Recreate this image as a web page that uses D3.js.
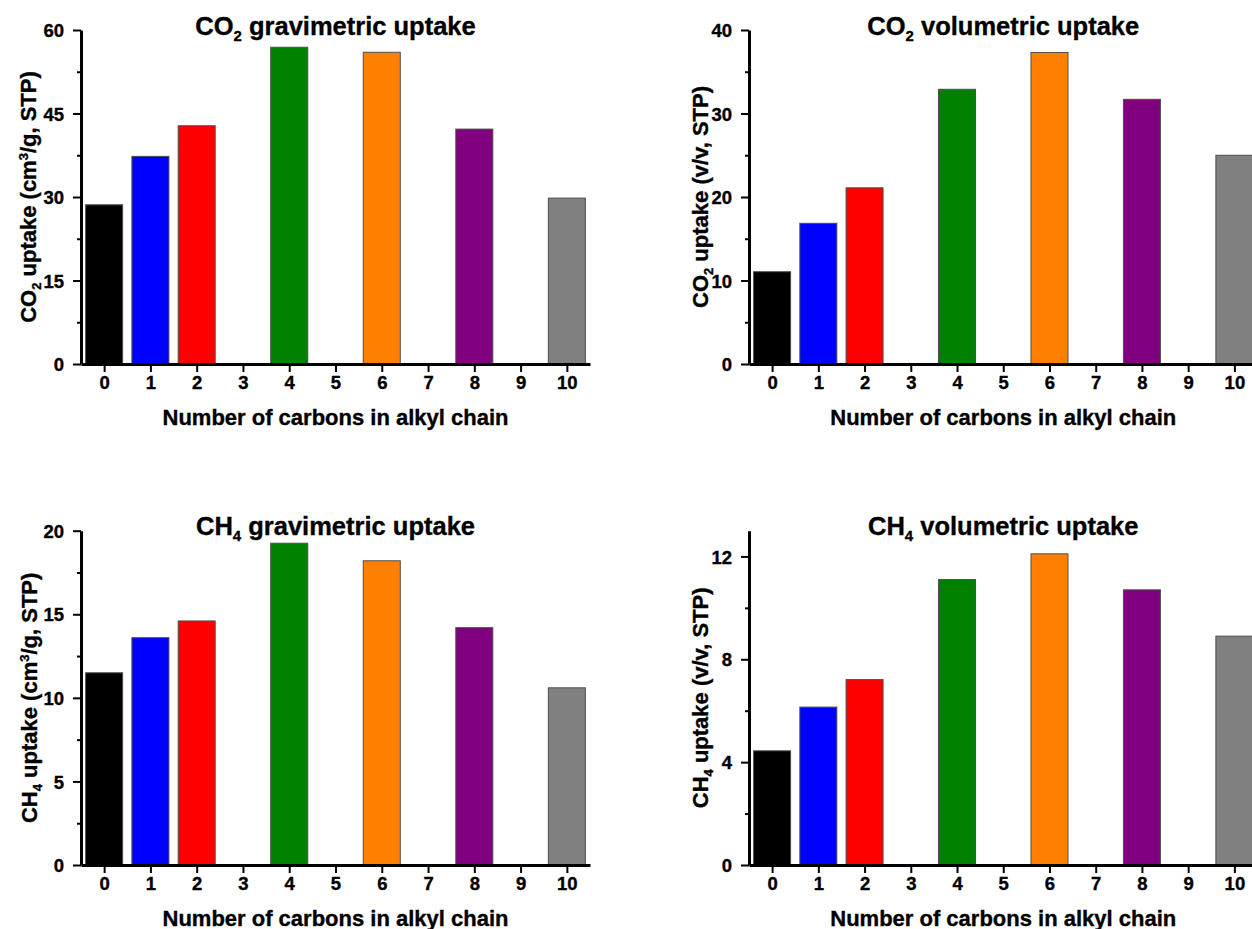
<!DOCTYPE html>
<html>
<head>
<meta charset="utf-8">
<script src="https://cdn.jsdelivr.net/npm/d3@7"></script>
<style>
  body { margin: 0; background: #fff; }
  text { font-family: "Liberation Sans", Arial, sans-serif; font-weight: bold; fill: #000;
         stroke: #000; stroke-width: 0.35px; }
</style>
</head>
<body>
<div id="plot"></div>
<script>
// values
const carbons = [0, 1, 2, 4, 6, 8, 10];
const xTicks = [0, 1, 2, 3, 4, 5, 6, 7, 8, 9, 10];
const barColors = ["#000000", "#0000ff", "#ff0000", "#008000", "#ff8000", "#800080", "#808080"];

const co2Grav = [28.6, 37.3, 42.8, 56.9, 56.0, 42.2, 29.8];
const co2Vol  = [11.05, 16.85, 21.1, 32.9, 37.3, 31.7, 25.0];
const ch4Grav = [11.5, 13.6, 14.6, 19.25, 18.2, 14.2, 10.6];
const ch4Vol  = [4.44, 6.14, 7.21, 11.1, 12.1, 10.7, 8.9];

const co2GravTicks = [0, 15, 30, 45, 60];
const co2VolTicks  = [0, 10, 20, 30, 40];
const ch4GravTicks = [0, 5, 10, 15, 20];
const ch4VolTicks  = [0, 4, 8, 12];

const w = 1252;
const h = 929;

const svg = d3.select("div#plot")
    .append("svg")
    .attr("width", w)
    .attr("height", h);

// panel layout (pixels)
const panels = [
  {gas: "CO", sub: "2", kind: "gravimetric", unit: "cm", sup: "3", unitRest: "/g, STP)",
   values: co2Grav, ticks: co2GravTicks, ymax: 60,
   left: 81, right: 590, top: 30, bottom: 364, ylabX: 36},
  {gas: "CO", sub: "2", kind: "volumetric", unit: "v/v, STP)", sup: null,
   values: co2Vol, ticks: co2VolTicks, ymax: 40,
   left: 749, right: 1257.5, top: 30, bottom: 364, ylabX: 708},
  {gas: "CH", sub: "4", kind: "gravimetric", unit: "cm", sup: "3", unitRest: "/g, STP)",
   values: ch4Grav, ticks: ch4GravTicks, ymax: 20,
   left: 81, right: 590, top: 530.7, bottom: 865, ylabX: 37},
  {gas: "CH", sub: "4", kind: "volumetric", unit: "v/v, STP)", sup: null,
   values: ch4Vol, ticks: ch4VolTicks, ymax: 13,
   left: 749, right: 1257.5, top: 530.7, bottom: 865, ylabX: 708}
];

panels.forEach(p => {
  const xScale = d3.scaleLinear()
      .domain([-0.5, 10.5])
      .range([p.left, p.right]);

  const yScale = d3.scaleLinear()
      .domain([0, p.ymax])
      .range([p.bottom, p.top]);

  const step = p.ticks[1] - p.ticks[0];
  const minor = d3.range(step / 2, p.ymax, step).filter(v => !p.ticks.includes(v));

  const g = svg.append("g");

  const bw = xScale(0.4) - xScale(0);

  g.selectAll("rect")
      .data(p.values)
      .enter().append("rect")
      .attr("x", (d, i) => xScale(carbons[i]) - bw)
      .attr("y", d => yScale(d))
      .attr("width", 2 * bw)
      .attr("height", d => yScale(0) - yScale(d))
      .attr("fill", (d, i) => barColors[i])
      .attr("stroke", "#4d4d4d")
      .attr("stroke-width", 1);

  // minor y ticks
  g.append("g")
      .attr("transform", `translate(${p.left},0)`)
      .call(d3.axisLeft(yScale).tickValues(minor).tickSize(4).tickSizeOuter(0).tickFormat(""))
      .call(a => a.select(".domain").remove())
      .call(a => a.selectAll("line").attr("stroke-width", 2));

  // major y ticks
  g.append("g")
      .attr("transform", `translate(${p.left},0)`)
      .call(d3.axisLeft(yScale).tickValues(p.ticks).tickSize(8).tickSizeOuter(0).tickPadding(9))
      .call(a => a.select(".domain").attr("stroke-width", 3))
      .call(a => a.selectAll("line").attr("stroke-width", 2))
      .call(a => a.selectAll("text").style("font-size", "18.5px").attr("dy", "0.36em"));

  // x axis
  g.append("g")
      .attr("transform", `translate(0,${p.bottom})`)
      .call(d3.axisBottom(xScale).tickValues(xTicks).tickSize(8).tickSizeOuter(0).tickPadding(4))
      .call(a => a.select(".domain").attr("stroke-width", 3))
      .call(a => a.selectAll("line").attr("stroke-width", 2))
      .call(a => a.selectAll("text").style("font-size", "18.5px"));

  // title
  const cx = (p.left + p.right) / 2;
  const title = g.append("text")
      .attr("x", cx)
      .attr("y", p.top + 4.5)
      .attr("text-anchor", "middle")
      .style("font-size", "25.5px");
  title.append("tspan").text(p.gas);
  title.append("tspan").attr("dy", 6).style("font-size", "15px").text(p.sub);
  title.append("tspan").attr("dy", -6).text(" " + p.kind + " uptake");

  // x title
  g.append("text")
      .attr("x", cx)
      .attr("y", p.bottom + 61)
      .attr("text-anchor", "middle")
      .style("font-size", "22px")
      .text("Number of carbons in alkyl chain");

  // y title
  const cy = (p.top + p.bottom) / 2;
  const yl = g.append("text")
      .attr("transform", `translate(${p.ylabX},${cy}) rotate(-90)`)
      .attr("text-anchor", "middle")
      .style("font-size", "22px");
  yl.append("tspan").text(p.gas);
  yl.append("tspan").attr("dy", 5).style("font-size", "13px").text(p.sub);
  if (p.sup) {
    yl.append("tspan").attr("dy", -5).text(" uptake (" + p.unit);
    yl.append("tspan").attr("dy", -8).style("font-size", "13px").text(p.sup);
    yl.append("tspan").attr("dy", 8).text(p.unitRest);
  } else {
    yl.append("tspan").attr("dy", -5).text(" uptake (" + p.unit);
  }
});
</script>
</body>
</html>
